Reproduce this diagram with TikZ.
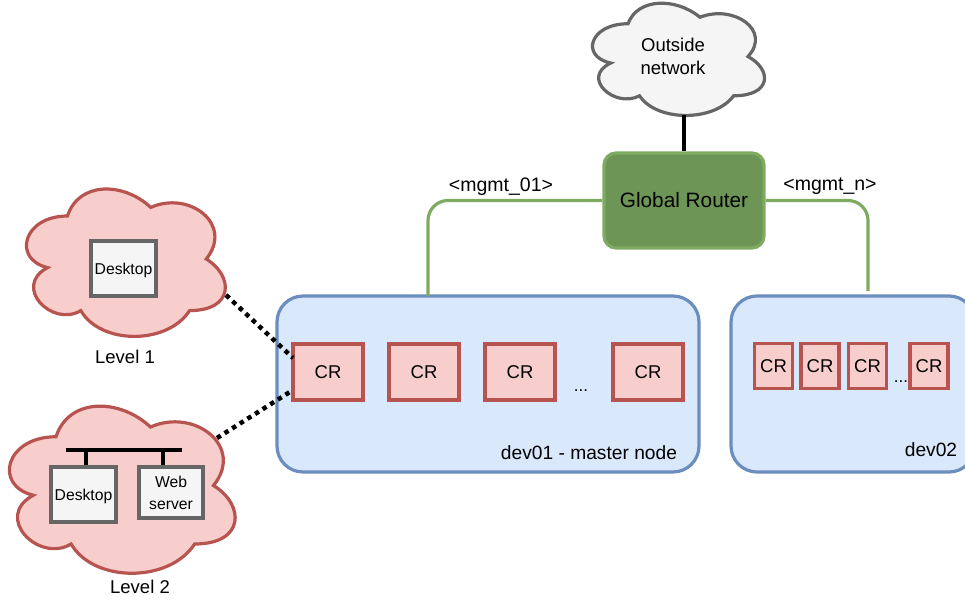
\documentclass[tikz,border=0pt]{standalone}
\usepackage{fontspec}
\setmainfont{Liberation Sans}
\usetikzlibrary{arrows}

\definecolor{cloudgray}{HTML}{F5F5F5}
\definecolor{linegray}{HTML}{666666}
\definecolor{redfill}{HTML}{F8CECC}
\definecolor{redline}{HTML}{B85450}
\definecolor{bluefill}{HTML}{DAE8FC}
\definecolor{blueline}{HTML}{6C8EBF}
\definecolor{greenfill}{HTML}{6D9656}
\definecolor{greenline}{HTML}{7FAA62}

% cloud outline: name, style, left, top, width, height
\newcommand{\cloudat}[6]{
	\draw[#2, shift={(#3,#4)}, xscale=#5, yscale=#6]
		(0.25,0.25) .. controls (0.05,0.25) and (0,0.5) .. (0.16,0.55)
		.. controls (0,0.66) and (0.18,0.9) .. (0.31,0.8)
		.. controls (0.4,1) and (0.7,1) .. (0.8,0.8)
		.. controls (1,0.8) and (1,0.6) .. (0.875,0.5)
		.. controls (1,0.3) and (0.8,0.1) .. (0.625,0.2)
		.. controls (0.5,0.05) and (0.3,0.05) .. (0.25,0.25) -- cycle;
	\coordinate (#1) at (#3+#5/2,#4+#6/2);
}

\begin{document}
\begin{tikzpicture}[x=1pt,y=-1pt]
		\tikzset{host/.style = {shape=rectangle,draw=linegray,fill=cloudgray,line width=3.5pt,inner sep=0pt,font=\fontsize{15.7}{20}\selectfont,align=center}}
		\tikzset{crbox/.style = {shape=rectangle,draw=redline,fill=redfill,line width=3.5pt,inner sep=0pt,font=\fontsize{18.5}{22}\selectfont}}
		\tikzset{devbox/.style = {shape=rectangle,draw=blueline,fill=bluefill,line width=3.2pt,rounded corners=26pt,inner sep=0pt}}
		\tikzset{lbl/.style = {inner sep=0pt,font=\fontsize{18.5}{23}\selectfont,align=center}}
		\tikzset{mgmt/.style = {draw=greenline,line width=3.2pt,rounded corners=20pt}}
		\tikzset{wire/.style = {draw=black,line width=3.4pt}}
		\tikzset{dots/.style = {draw=black,line width=4.5pt,dash pattern=on 4.5pt off 4.5pt}}
		\useasboundingbox (0,0) rectangle (965,601);
		\clip (0,0) rectangle (965,601);
		% clouds
		\cloudat{outsidec}{draw=linegray,fill=cloudgray,line width=3.2pt}{580}{-9}{192}{131}
		\cloudat{level1c}{draw=redline,fill=redfill,line width=3.2pt}{12}{173}{222}{172}
		\cloudat{level2c}{draw=redline,fill=redfill,line width=3.2pt}{-7}{388}{252}{195}
		% device boxes
		\node[devbox,minimum width=422pt,minimum height=176pt] (dev01) at (488,384) {};
		\node[devbox,minimum width=244pt,minimum height=176pt] (dev02) at (853,384) {};
		% router
		\node[shape=rectangle,draw=greenline,fill=greenfill,line width=3.2pt,rounded corners=12pt,minimum width=160pt,minimum height=95pt,inner sep=0pt,font=\fontsize{20.8}{24}\selectfont] (router) at (684,200.5) {Global Router};
		% hosts
		\node[host,text depth=0pt,minimum width=65pt,minimum height=55pt] (desk1) at (123.5,268.5) {Desktop};
		\node[host,text depth=0pt,minimum width=65pt,minimum height=55pt] (desk2) at (83.5,494.5) {Desktop};
		\node[host,minimum width=64pt,minimum height=51pt] (web) at (171,492.5) {Web\\[2pt]server};
		\node[inner sep=0pt,minimum width=116pt,minimum height=0pt] (bus) at (124,450) {};
		% CR boxes of dev01
		\node[crbox,minimum width=70pt,minimum height=56pt] (cr1) at (328,372) {CR};
		\node[crbox,minimum width=70pt,minimum height=56pt] (cr2) at (424,372) {CR};
		\node[crbox,minimum width=70pt,minimum height=56pt] (cr3) at (520,372) {CR};
		\node[crbox,minimum width=70pt,minimum height=56pt] (cr4) at (648,372) {CR};
		% CR boxes of dev02
		\node[crbox,minimum width=38pt,minimum height=45pt] (cr5) at (773.5,366) {CR};
		\node[crbox,minimum width=38pt,minimum height=45pt] (cr6) at (820,366) {CR};
		\node[crbox,minimum width=38pt,minimum height=45pt] (cr7) at (867.5,366) {CR};
		\node[crbox,minimum width=38pt,minimum height=45pt] (cr8) at (929,366) {CR};
		% labels
		\node[lbl] (outside) at (673,56) {Outside\\network};
		\node[lbl] (lev1) at (125,357) {Level 1};
		\node[lbl] (lev2) at (140,587) {Level 2};
		\node[lbl,font=\fontsize{19.5}{23}\selectfont] (lab1) at (501,186.5) {<mgmt\_01>};
		\node[lbl,font=\fontsize{19.5}{23}\selectfont] (lab2) at (830,186.5) {<mgmt\_n>};
		\node[lbl,font=\fontsize{19.2}{23}\selectfont] (name1) at (589,453) {dev01 - master node};
		\node[lbl,font=\fontsize{19.2}{23}\selectfont] (name2) at (931,450) {dev02};
		\node[lbl,font=\fontsize{17}{20}\selectfont] (more1) at (581,391) {...};
		\node[lbl,font=\fontsize{17}{20}\selectfont] (more2) at (901,382) {...};
		% free ends
		\coordinate (up1) at (428,296);
		\coordinate (up2) at (868,291);
		\coordinate (outb) at (684,115);
		\coordinate (l1end) at (226,295);
		\coordinate (l2end) at (217,438);
		\coordinate (cr1a) at (293,358);
		\coordinate (cr1b) at (293,390);
		\coordinate (stub1) at (86,450);
		\coordinate (stub2) at (163,450);
		% edges
		\draw[mgmt] (router.west) -| (up1);
		\draw[mgmt] (router.east) -| (up2);
		\draw[wire] (outb) -- (router.north);
		\draw[dots] (l1end) -- (cr1a);
		\draw[dots] (l2end) -- (cr1b);
		\draw[wire] (bus.west) -- (bus.east);
		\draw[wire] (stub1) -- (stub1 |- desk2.north);
		\draw[wire] (stub2) -- (stub2 |- web.north);
		\end{tikzpicture}
\end{document}
